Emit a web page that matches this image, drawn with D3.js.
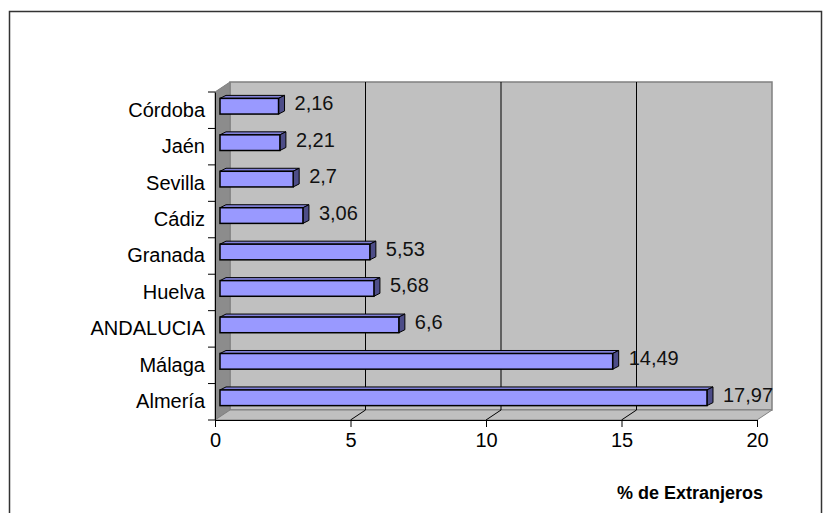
<!DOCTYPE html>
<html>
<head>
<meta charset="utf-8">
<script src="https://cdnjs.cloudflare.com/ajax/libs/d3/7.8.5/d3.min.js"></script>
<style>
  body { margin: 0; background: #fff; }
  text { font-family: Arial, "Liberation Sans", sans-serif; }
</style>
</head>
<body>
<svg id="chart" width="833" height="513"></svg>
<script>
// data (top to bottom)
var categories = ["Córdoba", "Jaén", "Sevilla", "Cádiz", "Granada", "Huelva", "ANDALUCIA", "Málaga", "Almería"];
var values = [2.16, 2.21, 2.7, 3.06, 5.53, 5.68, 6.6, 14.49, 17.97];
var xTicks = [0, 5, 10, 15, 20];
var axisTitle = "% de Extranjeros";

var svg = d3.select("#chart");

// outer frame
svg.append("rect")
    .attr("x", 9.5).attr("y", 11.5)
    .attr("width", 812).attr("height", 530)
    .attr("fill", "none")
    .attr("stroke", "#333")
    .attr("stroke-width", 1.5);

var x = d3.scaleLinear().domain([0, 20]).range([215, 757]);
var y = d3.scaleBand().domain(categories).range([92, 420]);

var y0 = y.range()[0], y1 = y.range()[1];
var DX = 15, DY = -10;      // depth of the walls
var FX = 5, FY = -4;        // front face of the bars
var BX = 6, BY = -3;        // depth of the bars
var fs = 20;

function pts(a) { return a.map(function (p) { return p.join(","); }).join(" "); }

var walls = svg.append("g");

// back wall
walls.append("polygon")
    .attr("points", pts([[x(0) + DX, y0 + DY], [x(20) + DX, y0 + DY], [x(20) + DX, y1 + DY], [x(0) + DX, y1 + DY]]))
    .attr("fill", "#c0c0c0")
    .attr("stroke", "#808080")
    .attr("stroke-width", 1.5);

// side wall
walls.append("polygon")
    .attr("points", pts([[x(0), y0], [x(0) + DX, y0 + DY], [x(0) + DX, y1 + DY], [x(0), y1]]))
    .attr("fill", "#8c8c8c")
    .attr("stroke", "#808080");

// floor
walls.append("polygon")
    .attr("points", pts([[x(0), y1], [x(20), y1], [x(20) + DX, y1 + DY], [x(0) + DX, y1 + DY]]))
    .attr("fill", "#c0c0c0")
    .attr("stroke", "#808080");

// gridlines on wall and floor
var grid = xTicks.filter(function (d) { return d > 0 && d < 20; });
walls.selectAll(".gridv").data(grid).enter().append("line")
    .attr("x1", function (d) { return x(d) + DX; })
    .attr("x2", function (d) { return x(d) + DX; })
    .attr("y1", y0 + DY).attr("y2", y1 + DY)
    .attr("stroke", "#000");
walls.selectAll(".gridf").data(grid).enter().append("line")
    .attr("x1", function (d) { return x(d); })
    .attr("x2", function (d) { return x(d) + DX; })
    .attr("y1", y1).attr("y2", y1 + DY)
    .attr("stroke", "#000");

// bars
var bh = y.step() * 0.43;
var bars = svg.append("g").selectAll("g").data(categories).enter().append("g");

bars.each(function (c, i) {
    var g = d3.select(this);
    var v = values[i];
    var xl = x(0) + FX, xr = x(v) + FX;
    var yt = y(c) + y.bandwidth() / 2 - bh / 2 + FY, yb = yt + bh;
    // top face
    g.append("polygon")
        .attr("points", pts([[xl, yt], [xr, yt], [xr + BX, yt + BY], [xl + BX, yt + BY]]))
        .attr("fill", "#8080d8").attr("stroke", "#000").attr("stroke-width", 1);
    // end face
    g.append("polygon")
        .attr("points", pts([[xr, yt], [xr + BX, yt + BY], [xr + BX, yb + BY], [xr, yb]]))
        .attr("fill", "#4d4d88").attr("stroke", "#000").attr("stroke-width", 1);
    // front face
    g.append("rect")
        .attr("x", xl).attr("y", yt)
        .attr("width", xr - xl).attr("height", bh)
        .attr("fill", "#9999ff").attr("stroke", "#000").attr("stroke-width", 1.5);
    // value label
    g.append("text")
        .attr("x", xr + BX + 10)
        .attr("y", yt + bh / 2 - 3)
        .attr("dy", "0.35em")
        .attr("font-size", fs)
        .attr("fill", "#111")
        .text(String(v).replace(".", ","));
});

// x axis
var xAxis = svg.append("g")
    .attr("transform", "translate(0," + y1 + ")")
    .call(d3.axisBottom(x).tickValues(xTicks).tickSize(7).tickSizeOuter(0).tickPadding(6));
xAxis.select(".domain").attr("stroke", "#000");
xAxis.selectAll(".tick line").attr("stroke", "#000");
xAxis.selectAll(".tick text")
    .attr("font-size", fs)
    .attr("font-family", "Arial, 'Liberation Sans', sans-serif")
    .attr("fill", "#000");

// y axis: labels at band centres, ticks at band edges
var yAxis = svg.append("g")
    .attr("transform", "translate(" + x(0) + ",0)")
    .call(d3.axisLeft(y).tickSize(0).tickPadding(10));
yAxis.select(".domain").attr("stroke", "#000");
yAxis.selectAll(".tick text")
    .attr("font-size", fs)
    .attr("font-family", "Arial, 'Liberation Sans', sans-serif")
    .attr("fill", "#000");
var edges = categories.map(function (c) { return y(c); }).concat([y1]);
yAxis.selectAll(".edge").data(edges).enter().append("line")
    .attr("x1", -7).attr("x2", 0)
    .attr("y1", function (d) { return d; })
    .attr("y2", function (d) { return d; })
    .attr("stroke", "#000");

// axis title
svg.append("text")
    .attr("x", 690).attr("y", 499)
    .attr("text-anchor", "middle")
    .attr("font-size", 18)
    .attr("font-weight", "bold")
    .text(axisTitle);
</script>
</body>
</html>
